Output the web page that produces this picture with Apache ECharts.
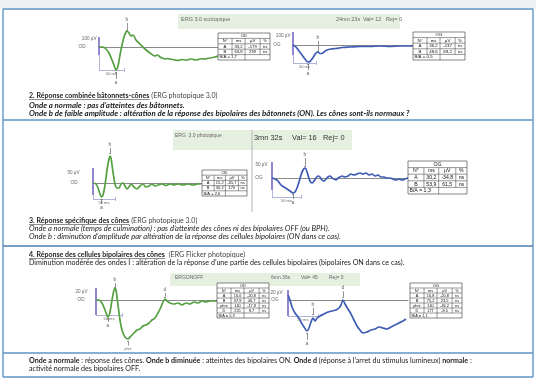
<!DOCTYPE html>
<html>
<head>
<meta charset="utf-8">
<script src="https://cdn.jsdelivr.net/npm/echarts@6/dist/echarts.min.js"></script>
<style>
html,body{margin:0;padding:0;background:#ffffff;}
#chart{width:536px;height:386px;}
</style>
</head>
<body>
<div id="chart"></div>
<script>
// ---------------- DATA ----------------
// ERG traces : [time (ms), amplitude (µV)]
const scotopicOD = [[0,0],[10,0],[17.5,-16],[25,-48],[32.5,-104],[37.5,-144],[42.5,-184],[47.5,-152],[52.5,-64],[57.5,16],[62.5,80],[67.5,120],[70,128],[75,112],[80,88],[85,96],[92.5,56],[102.5,24],[115,-16],[127.5,-48],[140,-72],[146,-64],[152.5,-80],[158,-88],[165,-96],[171,-92],[177.5,-96],[184,-100],[190,-104],[196,-108],[202.5,-104],[208,-100],[215,-104],[221,-104],[227.5,-96],[234,-98],[240,-104],[246,-102],[252.5,-96],[258,-94],[265,-96],[271,-92],[277.5,-88],[284,-84],[290,-80],[297.5,-72]];
const scotopicOG = [[0,0],[7.5,-16],[15,-48],[22.5,-80],[30,-112],[37.5,-136],[42.5,-132],[47.5,-112],[52.5,-88],[57.5,-64],[62.5,-56],[67.5,-68],[72.5,-68],[77.5,-56],[85,-40],[95,-32],[107.5,-28],[122.5,-20],[142.5,-16],[167.5,-12],[192.5,-12],[217.5,-8],[242.5,-12],[267.5,-8],[300,-8]];
const photopicOD = [[0,0],[6,-4],[10,-20],[14,-44],[17,-56],[20,-48],[24,-8],[28,52],[32,96],[34,108],[36,100],[40,44],[44,-4],[48,-20],[52,-20],[56,-4],[60,0],[64,-12],[68,-24],[72,-16],[76,-4],[82,-16],[88,-24],[94,-12],[100,-4],[106,-16],[112,-12],[118,-4],[124,-12],[130,-8],[138,-4],[146,-10],[154,-4],[162,-8],[170,-4],[180,-8],[190,-4],[200,-8],[210,-4],[216,-4]];
const photopicOG = [[0,0],[6,-2.5],[12,-7.5],[18,-17.5],[24,-22.5],[30,-27.5],[36,-32.5],[42,-37.5],[46,-35],[50,-25],[54,-10],[58,7.5],[62,20],[66,25],[68,22.5],[72,7.5],[76,-7.5],[80,-12.5],[84,-7.5],[88,0],[92,5],[96,2.5],[100,-5],[104,-7.5],[108,-2.5],[112,2.5],[116,5],[120,0],[124,-2.5],[128,-5],[132,0],[136,2.5],[140,5],[146,2.5],[152,5],[158,10],[164,7.5],[170,10],[176,12.5],[182,10],[188,12.5],[194,7.5],[200,10],[206,5],[212,7.5],[218,2.5],[224,2.5],[230,0],[236,0],[242,-2.5],[248,-5],[254,-2.5],[260,-5],[266,-2.5],[272,0]];
const flickerOD = [[0,0],[6,0],[12,-3.75],[18,-12.5],[24,-21.25],[28,-15],[32,0],[36,12.5],[38,15],[40,12.5],[44,-6.25],[48,-25],[52,-37.5],[58,-46.25],[64,-48.75],[70,-45],[76,-41.25],[82,-37.5],[88,-36.25],[94,-32.5],[100,-31.25],[106,-28.75],[112,-25],[118,-22.5],[124,-16.25],[130,-8.75],[134,-2.5],[138,1.25],[142,-1.25],[148,-3.75],[156,-5],[164,-3.75],[172,-6.25],[180,-3.75],[188,-5],[196,-2.5],[204,-3.75],[212,-1.25],[220,-2.5],[228,-1.25],[236,-1.25],[242,-1.25]];
const flickerOG = [[0,6.25],[4,0],[8,-8.75],[14,-16.25],[20,-21.25],[26,-27.5],[32,-33.75],[38,-38.75],[42,-35],[46,-27.5],[50,-22.5],[54,-26.25],[58,-22.5],[64,-20],[72,-17.5],[80,-15],[88,-13.75],[96,-12.5],[102,-10],[106,-6.25],[110,0],[114,-5],[120,-11.25],[126,-17.5],[132,-25],[138,-32.5],[144,-37.5],[150,-41.25],[158,-40],[166,-37.5],[174,-36.25],[182,-33.75],[190,-35],[198,-36.25],[206,-33.75],[214,-31.25],[222,-28.75],[230,-26.25],[236,-23.75]];

// Wave markers : [label, time (ms), from µV, to µV]
const marksScotopicOD = [['b',70,136,192],['a',42.5,-200,-256]];
const marksScotopicOG = [['b',62.5,-48,32],['a',37.5,-152,-200]];
const marksPhotopicOD = [['b',34,120,140],['a',17,-66,-84]];
const marksPhotopicOG = [['b',66,30,50],['a',42,-40,-52.5]];
const marksFlickerOD  = [['b',38,16,21],['a',24,-23,-27.5],['phnr',64,-52,-57],['d',138,4,9]];
const marksFlickerOG  = [['b',50,-18,-10],['a',38,-42,-50],['d',110,4,11]];

// Result tables
const tableScotopicOD = [['OD'],['N°','ms','µV','%'],['A','33,2','-179','ns'],['B','63,8','299','ns'],['B/A = 1,7']];
const tableScotopicOG = [['OG'],['N°','ms','µV','%'],['A','36,2','-137','ns'],['B','48,6','69,2','ns'],['B/A = 0,5']];
const tablePhotopicOD = [['OD'],['N°','ms','µV','%'],['A','15,2','-65,7','ns'],['B','30,2','170','ns'],['B/A = 2,6']];
const tablePhotopicOG = [['OG'],['N°','ms','µV','%'],['A','30,2','-34,8','ns'],['B','53,9','61,5','ns'],['B/A = 1,3']];
const tableFlickerOD  = [['OD'],['N°','ms','µV','%'],['A','16,6','-20,8','ns'],['B','37,9','46,7','ns'],['phnr','140','-17,8','ns'],['D','225','8,7','ns'],['B/A = 2,3']];
const tableFlickerOG  = [['OG'],['N°','ms','µV','%'],['A','16,8','-20,8','ns'],['B','75,2','23,5','ns'],['phnr','140','-46,2','ns'],['D','177','-8,5','ns'],['B/A = 1,1']];

// Header strings
const headerScotopic = ['ERG 3.0 scotopique','24mn 23s','Val= 12','Rej= 0'];
const headerPhotopic = ['ERG  3.0 photopique','3mn 32s','Val= 16','Rej= 0'];
const headerFlicker  = ['ERGONOFF','6mn 36s','Val= 45','Rej= 0'];

// ---------------- LAYOUT / STYLE ----------------
const GREEN = '#55a040', BLUE = '#3f5cb5', BAR = '#6c5fc0', BRK = '#8e94c4', MARK = '#666666', FRAME = '#5f95c9';
const SANS = '"Liberation Sans", Arial, sans-serif';
const BODY = 'Lato, "Noto Sans", sans-serif';

const traces = [scotopicOD, scotopicOG, photopicOD, photopicOG, flickerOD, flickerOG];
const marks = [marksScotopicOD, marksScotopicOG, marksPhotopicOD, marksPhotopicOG, marksFlickerOD, marksFlickerOG];
const panels = [
 {grid:{left:99, top:19.5, width:119, height:65}, x:[0,297.5], y:[-300,220], color:GREEN, bar:[80,-64], ampY:68, bracket:[-184,62], amp:'100 µV', eye:'OD', tx:2.5, ty:16, ampD:2, eyeD:13},
 {grid:{left:293, top:17.5, width:120, height:65}, x:[0,300], y:[-300,220], color:BLUE, bar:[104,-80], ampY:72, bracket:[-144,57], amp:'100 µV', eye:'OG', tx:2.5, ty:16, ampD:2, eyeD:12},
 {grid:{left:93, top:140, width:109, height:70}, x:[0,218], y:[-108,172], color:GREEN, bar:[60,-48], ampY:40, bracket:[-64,44], amp:'50 µV', eye:'OD', tx:2, ty:8, ampD:13, eyeD:15},
 {grid:{left:272, top:150, width:136, height:60}, x:[0,272], y:[-80,70], color:BLUE, bar:[40,-30], ampY:32.5, bracket:[-47.5,58], amp:'50 µV', eye:'OG', tx:2, ty:5, ampD:4, eyeD:9},
 {grid:{left:96, top:276, width:121, height:76}, x:[0,242], y:[-65,30], color:GREEN, bar:[15,-18.75], ampY:10, bracket:[-18.75,52], amp:'20 µV', eye:'OD', tx:2, ty:2.5, ampD:8, eyeD:11},
 {grid:{left:288, top:276, width:120, height:76}, x:[0,240], y:[-65,30], color:BLUE, bar:[12.5,-20], ampY:8.75, bracket:[-20,60], amp:'20 µV', eye:'OG', tx:2, ty:2.5, ampD:5, eyeD:9}
];

function lsty(color, width){ return {color:color, width:width, type:'solid', opacity:1}; }
function smallLabel(text, pos, dist, size){
  return {show:true, position:pos, distance:dist, formatter:text, fontSize:size||4.6, color:MARK, fontFamily:SANS};
}

const series = panels.map((P, i) => {
  const lines = [];
  lines.push([{coord:[0,P.bar[0]], lineStyle:lsty(BAR,1.5)}, {coord:[0,P.bar[1]]}]);
  if (P.bracket[0] < P.bar[1]) lines.push([{coord:[0,P.bar[1]], lineStyle:lsty(BRK,0.7)}, {coord:[0,P.bracket[0]]}]);
  lines.push([{coord:[0,P.bracket[0]], lineStyle:lsty(BRK,0.7)}, {coord:[P.bracket[1],P.bracket[0]]}]);
  lines.push([{coord:[P.bracket[1],P.bracket[0]+P.ty], lineStyle:lsty(BRK,0.7)}, {coord:[P.bracket[1],P.bracket[0]-P.ty]}]);
  marks[i].forEach(m => {
    lines.push([{coord:[m[1],m[2]], lineStyle:lsty(MARK,0.7), label:smallLabel(m[0],'end',1,m[0]==='phnr'?3.6:5)}, {coord:[m[1],m[3]]}]);
    lines.push([{coord:[m[1]-P.tx,m[2]], lineStyle:lsty(MARK,0.7)}, {coord:[m[1]+P.tx,m[2]]}]);
  });
  const pts = [
    {coord:[0,P.ampY], symbolSize:1, itemStyle:{color:'rgba(0,0,0,0)'}, label:smallLabel(P.amp,'left',P.ampD)},
    {coord:[0,0], symbolSize:1, itemStyle:{color:'rgba(0,0,0,0)'}, label:smallLabel(P.eye,'left',P.eyeD)},
    {coord:[P.bracket[1]/2,P.bracket[0]], symbolSize:1, itemStyle:{color:'rgba(0,0,0,0)'}, label:smallLabel('50 ms','bottom',1,4)}
  ];
  return {
    type:'line', xAxisIndex:i, yAxisIndex:i, data:traces[i], showSymbol:false, smooth:0.3, clip:false, silent:true,
    lineStyle:{color:P.color, width:1.7}, z:5,
    markLine:{silent:true, symbol:['none','none'], label:{show:false}, data:lines, animation:false},
    markPoint:{silent:true, symbol:'circle', data:pts, animation:false}
  };
});

// ---------------- GRAPHIC (frame, headers, tables, text) ----------------
const g = [];
function ln(x1,y1,x2,y2,color,w,z){ return {type:'line', silent:true, z:z||10, shape:{x1:x1,y1:y1,x2:x2,y2:y2}, style:{stroke:color,lineWidth:w}}; }
function rc(x,y,w,h,fill,stroke,lw,z){ return {type:'rect', silent:true, z:z||1, shape:{x:x,y:y,width:w,height:h}, style:{fill:fill,stroke:stroke||null,lineWidth:lw||0}}; }
function tx(x,y,t,fs,align,color,family,z){ return {type:'text', silent:true, z:z||22, style:{x:x,y:y,text:t,fontSize:fs,fontFamily:family||SANS,fill:color||'#111',textAlign:align||'left',verticalAlign:'middle'}}; }

// page frame
g.push(rc(0,0,536,9,'#eef1f4'));
g.push(ln(3,9,533,9,FRAME,1.4));
g.push(ln(3,9,3,377,FRAME,1.4));
g.push(ln(533,9,533,377,FRAME,1.4));
g.push(ln(3,377,533,377,FRAME,1.4));
g.push(ln(3,120,533,120,FRAME,1.4));
g.push(ln(3,246,533,246,'#4f7fb0',1.4));
g.push(ln(3,353,533,353,FRAME,1.4));

// headers
const HG = '#e6f0e1';
g.push(rc(178,14,222,15,HG));
g.push(tx(181,19,headerScotopic[0],5.5,'left','#666'));
g.push(tx(336,19,headerScotopic[1],5.5,'left','#666'));
g.push(tx(363,19,headerScotopic[2],5.5,'left','#666'));
g.push(tx(386,19,headerScotopic[3],5.5,'left','#666'));

g.push(rc(173,130,79,20,HG));
g.push(rc(252,130,100,20,HG));
g.push(ln(252,130,252,212,'#b5b5b5',1));
g.push(tx(175,136,headerPhotopic[0],5,'left','#666'));
g.push(tx(254,138,headerPhotopic[1],7.4,'left','#333'));
g.push(tx(292,138,headerPhotopic[2],7.4,'left','#333'));
g.push(tx(323,138,headerPhotopic[3],7.4,'left','#333'));

g.push(rc(170,273,190,13,HG));
g.push(tx(175,278,headerFlicker[0],5,'left','#666'));
g.push(tx(271,278,headerFlicker[1],5,'left','#666'));
g.push(tx(301,278,headerFlicker[2],5,'left','#666'));
g.push(tx(329,278,headerFlicker[3],5,'left','#666'));

// tables
function addTable(x, y, w, h, rows) {
  const n = rows.length, rh = h / n, fs = rh * 0.78;
  const fr = [0.27, 0.25, 0.29, 0.19];
  const cx = [x]; fr.forEach(f => cx.push(cx[cx.length-1] + f*w));
  g.push(rc(x, y, w, h, '#fff', '#333', 0.6, 20));
  for (let r = 1; r < n; r++) g.push(ln(x, y+r*rh, x+w, y+r*rh, '#333', 0.5, 21));
  rows.forEach((row, r) => {
    const ym = y + r*rh + rh/2;
    if (r === 0) g.push(tx(x+w/2, ym, row[0], fs, 'center'));
    else if (r === n-1) { g.push(ln(cx[2], y+r*rh, cx[2], y+h, '#333', 0.5, 21)); g.push(tx(x+1.5, ym, row[0], fs, 'left')); }
    else {
      for (let c = 1; c < 4; c++) g.push(ln(cx[c], y+r*rh, cx[c], y+(r+1)*rh, '#333', 0.5, 21));
      row.forEach((v, c) => g.push(tx((cx[c]+cx[c+1])/2, ym, v, fs, 'center')));
    }
  });
}
addTable(218, 33, 52, 27, tableScotopicOD);
addTable(413, 32, 52, 28, tableScotopicOG);
addTable(202, 170, 45, 26, tablePhotopicOD);
addTable(408, 161, 59, 33, tablePhotopicOG);
addTable(217, 283, 52, 35, tableFlickerOD);
addTable(410, 283, 52, 35, tableFlickerOG);

// paragraph text : font size fitted to the measured extent of a reference line
const mctx = document.createElement('canvas').getContext('2d');
function fontStr(s, size){ return (s.i?'italic ':'') + (s.b?'bold ':'') + size + 'px ' + BODY; }
function measure(segs){
  let tot = 0;
  segs.forEach(s => { mctx.font = fontStr(s, 20); s.w = mctx.measureText(s.t).width / 20; tot += s.w; });
  return tot;
}
function fit(x, x2, segs){ return (x2 - x) / measure(segs); }
function addLine(x, y, segs, fs){
  measure(segs);
  let cx = x;
  segs.forEach(s => {
    g.push({type:'text', silent:true, z:22, style:{x:cx, y:y, text:s.t, fontSize:fs, fontFamily:BODY,
      fontWeight:s.b?'bold':'normal', fontStyle:s.i?'italic':'normal', fill:s.c||'#1b1b1b', textAlign:'left', verticalAlign:'middle'}});
    if (s.u) g.push(ln(cx, y+fs*0.5, cx+s.w*fs, y+fs*0.5, '#1b1b1b', 0.5, 22));
    cx += s.w * fs;
  });
}
const L1 = [{t:'2. Réponse combinée bâtonnets-cônes', b:1, u:1}, {t:' (ERG photopique 3.0)', c:'#444'}];
const L2 = [{t:'Onde a normale : pas d’atteintes des bâtonnets.', b:1, i:1}];
const L3 = [{t:'Onde b de faible amplitude : altération de la réponse des bipolaires des bâtonnets (ON). Les cônes sont-ils normaux ?', b:1, i:1}];
const L4 = [{t:'3. Réponse spécifique des cônes', b:1, u:1}, {t:' (ERG photopique 3.0)', c:'#444'}];
const L5 = [{t:'Onde a normale (temps de culmination) : pas d’atteinte des cônes ni des bipolaires OFF (ou BPH).', i:1}];
const L6 = [{t:'Onde b : diminution d’amplitude par altération de la réponse des cellules bipolaires (ON dans ce cas).', i:1}];
const L7 = [{t:'4. Réponse des cellules bipolaires des cônes', b:1, u:1}, {t:'  (ERG Flicker photopique)', c:'#444'}];
const L8 = [{t:'Diminution modérée des ondes I : altération de la réponse d’une partie des cellules bipolaires (bipolaires ON dans ce cas).'}];
const L9 = [{t:'Onde a normale', b:1}, {t:' : réponse des cônes. '}, {t:'Onde b diminuée', b:1}, {t:' : atteintes des bipolaires ON. '}, {t:'Onde d', b:1}, {t:' (réponse à l’arret du stimulus lumineux) '}, {t:'normale', b:1}, {t:' :'}];
const L10 = [{t:'activité normale des bipolaires OFF.'}];

const fsHead = (fit(29,218,L1) + fit(29,191,L4) + fit(29,253,L7)) / 3;
const fsBI = fit(29,410,L3);
const fsI = (fit(29,334,L5) + fit(29,337,L6)) / 2;
const fsN = (fit(29,423,L8) + fit(29,450,L9)) / 2;
addLine(29, 96, L1, fsHead);
addLine(29, 105, L2, fsBI);
addLine(29, 113, L3, fsBI);
addLine(29, 221, L4, fsHead);
addLine(29, 229, L5, fsI);
addLine(29, 237, L6, fsI);
addLine(29, 255, L7, fsHead);
addLine(29, 263, L8, fsN);
addLine(29, 361, L9, fsN);
addLine(29, 369, L10, fsN);

// ---------------- CHART ----------------
const chart = echarts.init(document.getElementById('chart'), null, {renderer:'canvas'});
chart.setOption({
  animation:false,
  backgroundColor:'#ffffff',
  grid: panels.map(P => Object.assign({containLabel:false, show:false}, P.grid)),
  xAxis: panels.map((P, i) => ({type:'value', gridIndex:i, min:P.x[0], max:P.x[1], show:true,
    axisLine:{show:true, onZero:true, lineStyle:{color:'#8a8a8a', width:1}},
    axisTick:{show:false}, axisLabel:{show:false}, splitLine:{show:false}})),
  yAxis: panels.map((P, i) => ({type:'value', gridIndex:i, min:P.y[0], max:P.y[1], show:false, splitLine:{show:false}})),
  series: series,
  graphic: g
});
</script>
</body>
</html>
